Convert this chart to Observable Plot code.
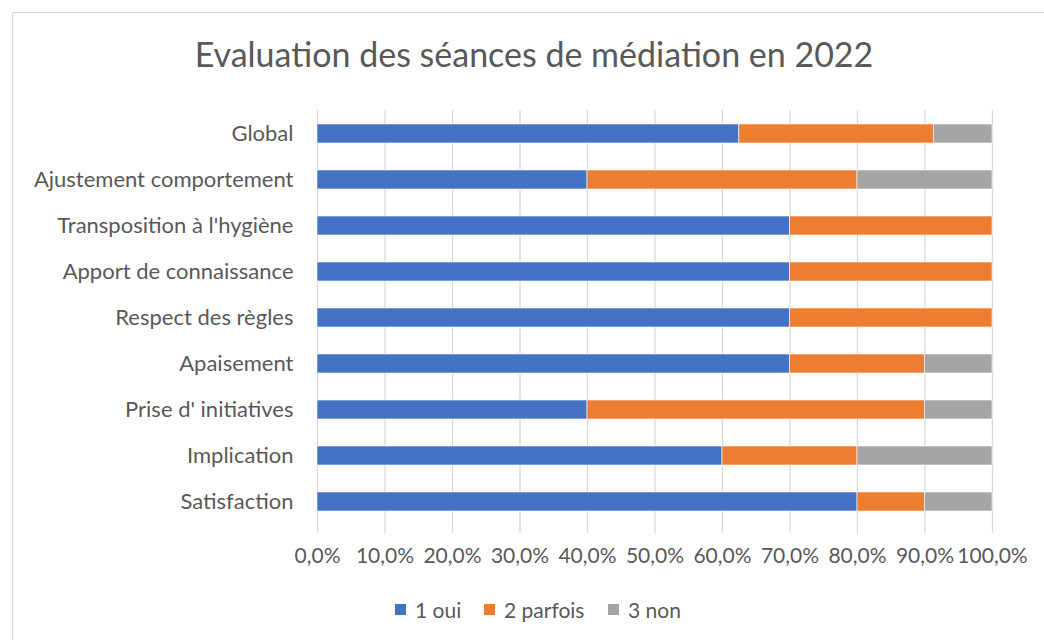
<!DOCTYPE html>
<html><head><meta charset="utf-8">
<script src="https://cdn.jsdelivr.net/npm/d3@7"></script>
<script src="https://cdn.jsdelivr.net/npm/@observablehq/plot@0.6"></script>
<style>
body{margin:0;background:#fff;font-family:Lato, "Open Sans", sans-serif;}
#frame{position:absolute;left:12px;top:12px;width:1040px;height:640px;border:1px solid #d9d9d9;box-sizing:border-box}
#title{position:absolute;left:0;width:1068px;top:33px;text-align:center;font-size:34px;color:#595959;white-space:nowrap}
#chart{position:absolute;left:0;top:0}
.lg{position:absolute;top:596px;height:26px;font-size:21px;color:#595959;display:flex;align-items:center;white-space:nowrap}
.sw{display:inline-block;width:11px;height:11px;margin-right:9px}
</style></head>
<body>
<div id="frame"></div>
<div id="chart"></div>
<div id="title">Evaluation des séances de médiation en 2022</div>
<div id="legend"></div>
<script>
const categories = ["Global","Ajustement comportement","Transposition à l'hygiène","Apport de connaissance","Respect des règles","Apaisement","Prise d' initiatives","Implication","Satisfaction"];
const series = ["1 oui","2 parfois","3 non"];
const colors = ["#4472C4","#ED7D31","#A5A5A5"];
const oui     = [62.5, 40, 70, 70, 70, 70, 40, 60, 80];
const parfois = [28.8, 40, 30, 30, 30, 20, 50, 20, 10];
const non     = [8.7, 20, 0, 0, 0, 10, 10, 20, 10];
const xTicks = [0,10,20,30,40,50,60,70,80,90,100];

const values = [oui, parfois, non];
const rows = [];
series.forEach((s, i) => categories.forEach((c, j) => rows.push({cat: c, serie: s, value: values[i][j]})));

const fmt = d => d.toFixed(1).replace(".", ",") + "%";

const chart = Plot.plot({
  width: 1044, height: 580,
  marginLeft: 317, marginRight: 52, marginTop: 110, marginBottom: 55,
  style: {fontFamily: "Lato, 'Open Sans', sans-serif", fontSize: "22px", color: "#595959", background: "transparent"},
  x: {domain: [0, 100], axis: null},
  y: {domain: categories, label: null, tickSize: 0, tickPadding: 24, paddingInner: 0.588, paddingOuter: 0.293, axis: null},
  color: {domain: series, range: colors},
  marks: [
    Plot.gridX(xTicks, {stroke: "#d9d9d9", strokeOpacity: 1, strokeWidth: 1.3}),
    Plot.axisY({tickSize: 0, tickPadding: 24, label: null, fontSize: 22}),
    Plot.axisX({ticks: xTicks, tickFormat: fmt, label: null, tickSize: 8, tickPadding: 15, stroke: "#d9d9d9", strokeWidth: 1.3, fill: "#595959", fontSize: 21}),
    Plot.barX(rows, Plot.stackX({y: "cat", x: "value", fill: "serie", stroke: "#fff", strokeWidth: 0.6}))
  ]
});
document.getElementById("chart").appendChild(chart);

const lgPos = [395, 484, 608];
const lg = document.getElementById("legend");
series.forEach((s, i) => {
  const d = document.createElement("div");
  d.className = "lg";
  d.style.left = lgPos[i] + "px";
  d.innerHTML = `<span class="sw" style="background:${colors[i]}"></span><span>${s}</span>`;
  lg.appendChild(d);
});
</script>
</body></html>
